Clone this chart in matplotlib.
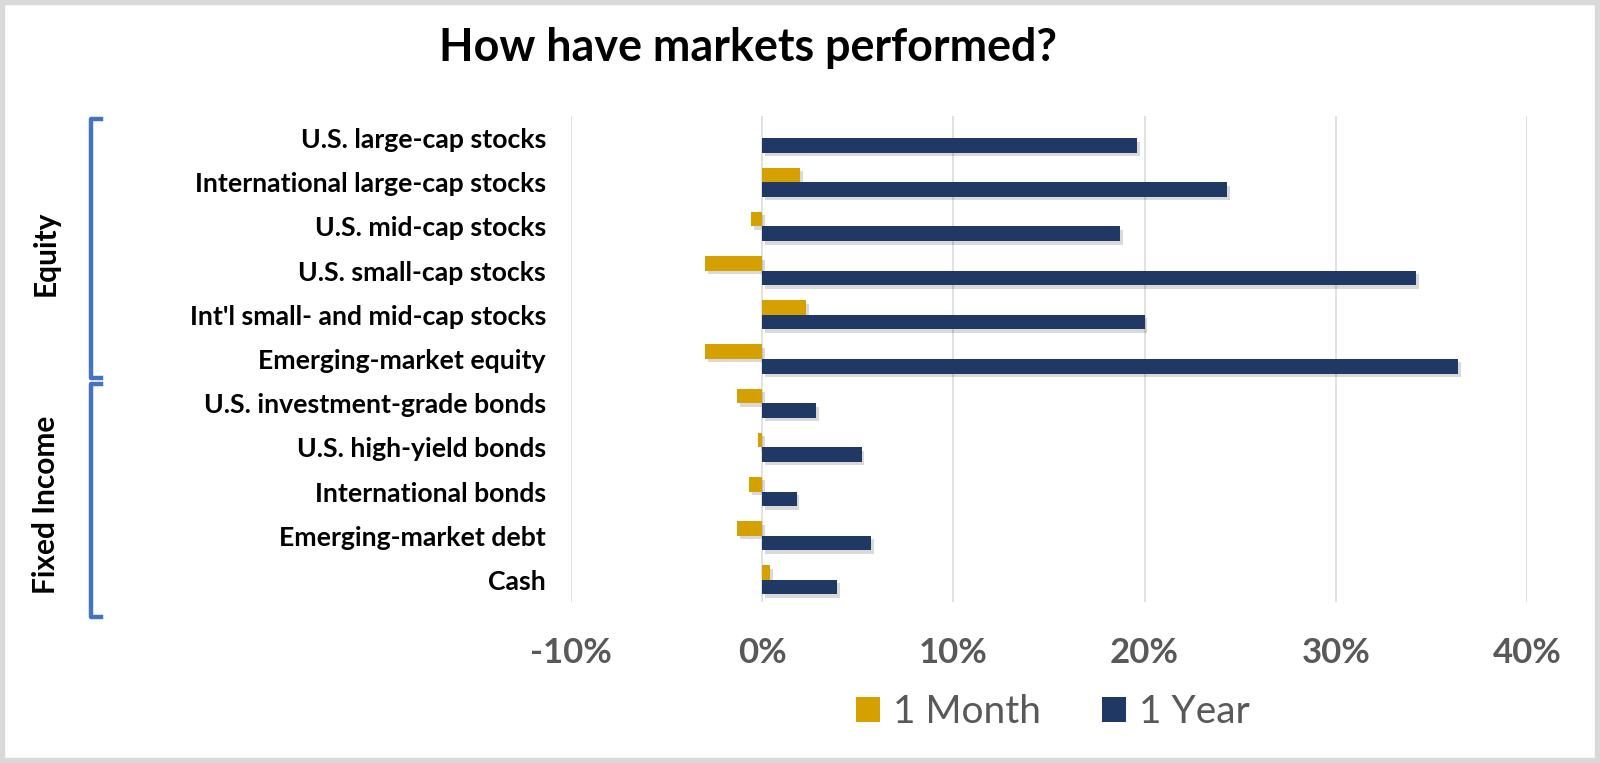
import matplotlib
matplotlib.use("Agg")
import matplotlib.pyplot as plt
from matplotlib.patches import Patch, Rectangle
from matplotlib.lines import Line2D
from matplotlib.ticker import FuncFormatter, FixedLocator
from matplotlib import patheffects as pe
from matplotlib.transforms import blended_transform_factory

categories = ["U.S. large-cap stocks", "International large-cap stocks", "U.S. mid-cap stocks",
              "U.S. small-cap stocks", "Int'l small- and mid-cap stocks", "Emerging-market equity",
              "U.S. investment-grade bonds", "U.S. high-yield bonds", "International bonds",
              "Emerging-market debt", "Cash"]
one_month = [0.0, 2.0, -0.6, -3.0, 2.3, -3.0, -1.3, -0.2, -0.7, -1.3, 0.4]
one_year = [19.6, 24.3, 18.7, 34.2, 20.0, 36.4, 2.8, 5.2, 1.8, 5.7, 3.9]
series_names = ["1 Month", "1 Year"]
x_ticks = [-10, 0, 10, 20, 30, 40]
groups = [("Equity", 0, 5), ("Fixed Income", 6, 10)]

GOLD = "#D4A100"
NAVY = "#1F3864"
BLUE = "#4472C4"
GRAY_TXT = "#595959"
FONT = "Lato"

W, H = 1600, 763
fig = plt.figure(figsize=(W / 100, H / 100), dpi=100)
fig.patch.set_facecolor("white")

ax = fig.add_axes([571 / W, 1 - 602 / H, (1527 - 571) / W, (602 - 116) / H])
ax.set_facecolor("white")

n = len(categories)
ys = list(range(n))
bh = 0.33
shadow = [pe.SimplePatchShadow(offset=(2, -2.5), shadow_rgbFace="#000000", alpha=0.15), pe.Normal()]
b1 = ax.barh([y - bh / 2 for y in ys], one_month, height=bh, color=GOLD, zorder=3)
b2 = ax.barh([y + bh / 2 for y in ys], one_year, height=bh, color=NAVY, zorder=3)
for b in list(b1) + list(b2):
    b.set_path_effects(shadow)

ax.set_xlim(x_ticks[0], x_ticks[-1])
ax.set_ylim(n - 0.5, -0.5)
ax.xaxis.set_major_locator(FixedLocator(x_ticks))
ax.xaxis.set_major_formatter(FuncFormatter(lambda v, p: f"{v:.0f}%"))
ax.grid(axis="x", color="#D9D9D9", linewidth=1.1, zorder=0)
ax.set_axisbelow(True)
for s in ax.spines.values():
    s.set_visible(False)
ax.set_yticks(ys)
ax.set_yticklabels(categories, fontfamily=FONT, fontweight="bold", fontsize=19.2, color="black")
ax.tick_params(axis="y", length=0, pad=18)
ax.tick_params(axis="x", length=0, pad=25, labelsize=25, labelcolor=GRAY_TXT)
for t in ax.get_xticklabels():
    t.set_fontfamily(FONT)
    t.set_fontweight("bold")

# title
fig.text(748 / W, 1 - 48 / H, "How have markets performed?", ha="center", va="center",
         fontfamily=FONT, fontweight="bold", fontsize=32.3, color="black")

# group brackets and labels
tr = blended_transform_factory(fig.transFigure, ax.transData)
bx, tx = 91 / W, 101 / W
for name, i0, i1 in groups:
    top = i0 - 0.43
    bot = i1 + 0.43 if i1 < n - 1 else i1 + 0.85
    ax.add_line(Line2D([tx, bx, bx, tx], [top, top, bot, bot], transform=tr, color=BLUE,
                       linewidth=3.2, solid_joinstyle="round", clip_on=False))
    yc = (i0 + i1) / 2 + (0.1 if name == "Equity" else 0.3)
    fig.text(46 / W, yc, name, rotation=90, ha="center", va="center", transform=tr,
             fontfamily=FONT, fontweight="bold", fontsize=21.5, color="black")

# legend
handles = [Patch(facecolor=GOLD), Patch(facecolor=NAVY)]
leg = fig.legend(handles, series_names, loc="center", bbox_to_anchor=(1053 / W, 1 - 712 / H),
                 ncol=2, frameon=False, handlelength=0.62, handleheight=0.62, handletextpad=0.35,
                 columnspacing=1.55, prop={"family": FONT, "size": 28})
for t in leg.get_texts():
    t.set_color(GRAY_TXT)

# outer frame
fig.patches.append(Rectangle((0, 0), 1, 1, transform=fig.transFigure, fill=False,
                             edgecolor="#D9D9D9", linewidth=7.5))

fig.savefig("out.png", dpi=100, facecolor="white")
